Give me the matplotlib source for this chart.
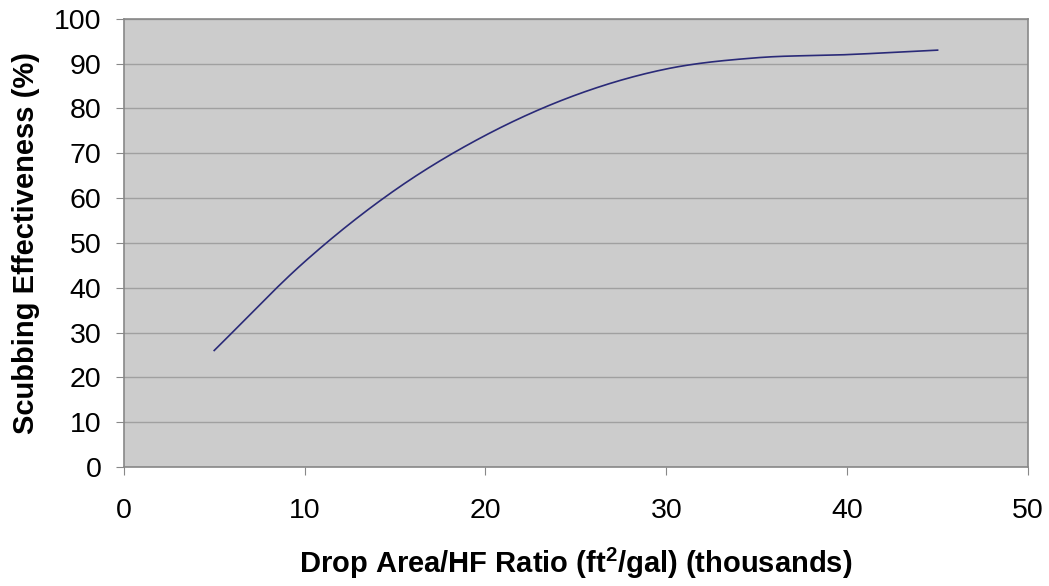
import numpy as np
import matplotlib
matplotlib.use("Agg")
import matplotlib.pyplot as plt

plt.rcParams['font.family'] = ['Liberation Sans', 'DejaVu Sans']
plt.rcParams['mathtext.fontset'] = 'custom'
plt.rcParams['mathtext.rm'] = 'Liberation Sans'
plt.rcParams['mathtext.bf'] = 'Liberation Sans:bold'

# Data
ratio = [5, 10, 15, 20, 25, 30, 35, 40, 45]          # thousands ft2/gal
effectiveness = [26, 45.8, 61.8, 74, 83, 88.8, 91.3, 92, 93]  # %


def smooth(xs, ys, n=30):
    # Catmull-Rom style smoothing, like Excel's "smoothed line"
    xs = np.asarray(xs, float)
    ys = np.asarray(ys, float)
    px = np.concatenate([[2 * xs[0] - xs[1]], xs, [2 * xs[-1] - xs[-2]]])
    py = np.concatenate([[2 * ys[0] - ys[1]], ys, [2 * ys[-1] - ys[-2]]])
    ox, oy = [], []
    t = np.linspace(0, 1, n, endpoint=False)
    for i in range(1, len(px) - 2):
        for p, out in ((px, ox), (py, oy)):
            p0, p1, p2, p3 = p[i - 1], p[i], p[i + 1], p[i + 2]
            out.extend(0.5 * ((2 * p1) + (-p0 + p2) * t
                              + (2 * p0 - 5 * p1 + 4 * p2 - p3) * t ** 2
                              + (-p0 + 3 * p1 - 3 * p2 + p3) * t ** 3))
    ox.append(xs[-1])
    oy.append(ys[-1])
    return ox, oy


fig = plt.figure(figsize=(10.49, 5.86), dpi=100)
ax = fig.add_axes([0.118, 0.203, 0.862, 0.765])
ax.set_facecolor('#cccccc')

sx, sy = smooth(ratio, effectiveness)
ax.plot(sx, sy, color='#2a2a78', lw=1.2, zorder=3)

ax.set_xlim(0, 50)
ax.set_ylim(0, 100)
ax.set_xticks(range(0, 51, 10))
ax.set_yticks(range(0, 101, 10))
ax.yaxis.grid(True, color='#a0a0a0', lw=1)
ax.set_axisbelow(True)
for s in ax.spines.values():
    s.set_color('#888888')
    s.set_linewidth(1.2)
ax.tick_params(axis='both', colors='#888888', labelcolor='black',
               labelsize=20.5, length=6, direction='out')
ax.tick_params(axis='x', pad=16)
ax.tick_params(axis='y', pad=10)

ax.set_xlabel('Drop Area/HF Ratio (ft$^\\mathbf{2}$/gal) (thousands)',
              fontsize=21, fontweight='bold', labelpad=16)
ax.set_ylabel('Scubbing Effectiveness (%)', fontsize=21, fontweight='bold',
              labelpad=10)

fig.savefig('out.png', dpi=100)
